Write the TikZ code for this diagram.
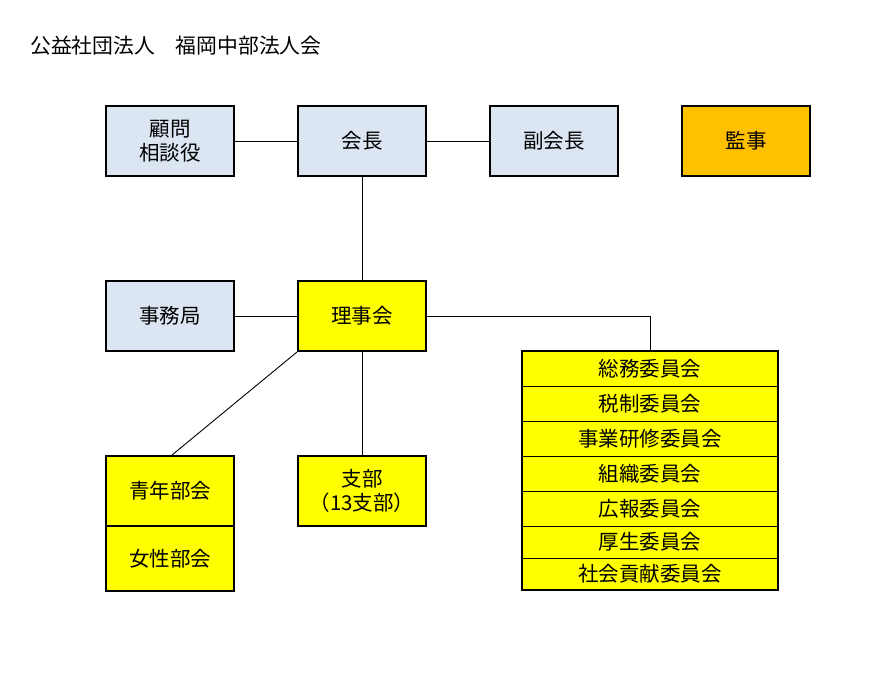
\documentclass[tikz,border=0pt]{standalone}
\usepackage{fontspec}
\setmainfont{Noto Sans CJK JP}
\definecolor{lblue}{HTML}{DCE6F2}
\definecolor{yel}{HTML}{FFFF00}
\definecolor{org}{HTML}{FFC000}
\tikzset{
  bbox/.style={draw=black, line width=2pt, minimum width=128pt, minimum height=70pt, inner sep=0pt, align=center, font=\fontsize{20.5}{24}\selectfont},
  crow/.style={draw=black, line width=0.9pt, fill=yel, minimum width=256pt, inner sep=0pt, font=\fontsize{20.5}{24}\selectfont},
  conn/.style={line width=0.9pt}
}
\begin{document}
\begin{tikzpicture}[x=1pt,y=-1pt]
\useasboundingbox[fill=white] (0,0) rectangle (877,680);
\node[anchor=west, font=\fontsize{20.8}{24}\selectfont, inner sep=0pt] (title) at (30,46) {公益社団法人　福岡中部法人会};

\node[bbox, fill=lblue] (komon) at (170,141) {顧問\\相談役};
\node[bbox, fill=lblue] (kaicho) at (362,141) {会長};
\node[bbox, fill=lblue] (fuku) at (554,141) {副会長};
\node[bbox, fill=org] (kanji) at (746,141) {監事};
\node[bbox, fill=lblue] (jimu) at (170,316) {事務局};
\node[bbox, fill=yel] (riji) at (362,316) {理事会};
\node[bbox, fill=yel] (shibu) at (362,490.5) {支部\\（13支部）};
\node[bbox, fill=yel, minimum height=70pt] (seinen) at (170,491) {青年部会};
\node[bbox, fill=yel, minimum height=65pt] (josei) at (170,558.5) {女性部会};

\node[crow, minimum height=35pt] (c1) at (650,368.5) {総務委員会};
\node[crow, minimum height=35pt] (c2) at (650,403.5) {税制委員会};
\node[crow, minimum height=35pt] (c3) at (650,438.5) {事業研修委員会};
\node[crow, minimum height=35pt] (c4) at (650,473.5) {組織委員会};
\node[crow, minimum height=35pt] (c5) at (650,508.5) {広報委員会};
\node[crow, minimum height=32pt] (c6) at (650,542) {厚生委員会};
\node[crow, minimum height=32pt] (c7) at (650,574) {社会貢献委員会};
\draw[line width=2pt] (c1.north west) rectangle (c7.south east);

\draw[conn] (komon) -- (kaicho);
\draw[conn] (kaicho) -- (fuku);
\draw[conn] (kaicho) -- (riji);
\draw[conn] (jimu) -- (riji);
\draw[conn] (riji) -- (shibu);
\draw[conn] (riji.east) -| (c1.north);
\draw[conn] (riji.south west) -- ([xshift=2pt]seinen.north);
\end{tikzpicture}
\end{document}
